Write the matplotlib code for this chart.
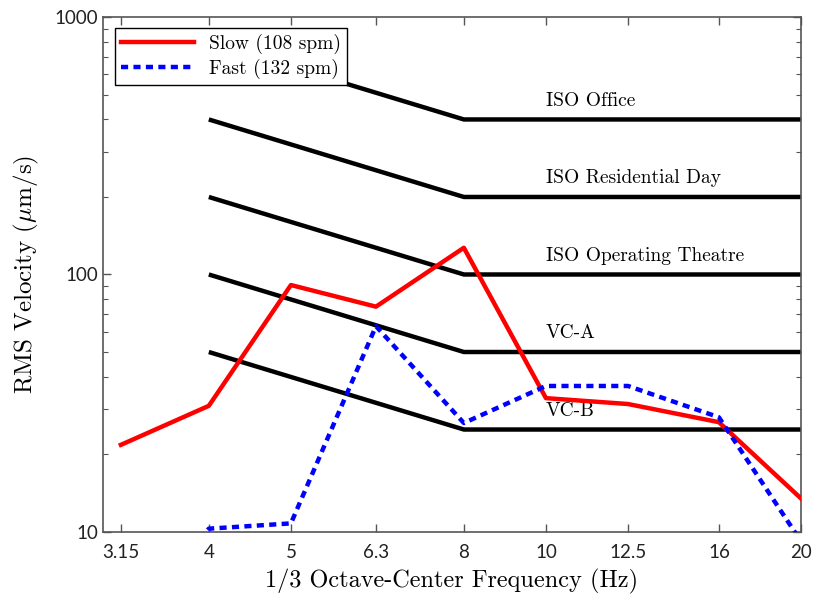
import matplotlib
matplotlib.use("Agg")
import matplotlib.pyplot as plt
import matplotlib.ticker as ticker

plt.rcParams['mathtext.fontset'] = 'cm'
plt.rcParams['axes.formatter.use_mathtext'] = True

# 1/3 octave centre frequencies (Hz)
freqs = [3.15, 4, 5, 6.3, 8, 10, 12.5, 16, 20]
freq_labels = ['3.15', '4', '5', '6.3', '8', '10', '12.5', '16', '20']

slow = [21.8, 30.9, 91, 75, 127, 33.1, 31.4, 26.7, 13.5]
fast = [4.0, 10.3, 10.8, 63, 26.5, 36.9, 36.9, 27.9, 9.2]

# vibration criteria: value at 4 Hz, plateau from 8 Hz to 20 Hz
crit_freqs = [4, 8, 20]
crit_names = ['ISO Office', 'ISO Residential Day', 'ISO Operating Theatre', 'VC-A', 'VC-B']
crit_levels = [400, 200, 100, 50, 25]

serif = 'cmr10'
tick_font = 'Lato'

fig = plt.figure(figsize=(8.14, 5.96), dpi=100)
ax = fig.add_axes([0.1265, 0.1074, 0.8575, 0.8641])

for name, level in zip(crit_names, crit_levels):
    ax.plot(crit_freqs, [2 * level, level, level], color='black', lw=3.2, solid_capstyle='butt', zorder=2)
    ax.text(10, level * 1.18, name, family=serif, fontsize=14, ha='left', va='center', zorder=1)

ax.plot(freqs, slow, color='#ff0000', lw=3.2, label='Slow (108 spm)', zorder=3)
ax.plot(freqs, fast, color='#0000ff', lw=3.2, ls=(0, (1.6, 1.2)), label='Fast (132 spm)', zorder=3)

ax.set_xscale('log')
ax.set_yscale('log')
ax.set_xlim(3.0, 20)
ax.set_ylim(10, 1000)

ax.xaxis.set_major_locator(ticker.FixedLocator(freqs))
ax.xaxis.set_major_formatter(ticker.FixedFormatter(freq_labels))
ax.xaxis.set_minor_locator(ticker.NullLocator())
ax.yaxis.set_major_locator(ticker.FixedLocator([10, 100, 1000]))
ax.yaxis.set_major_formatter(ticker.FixedFormatter(['10', '100', '1000']))
ax.yaxis.set_minor_locator(ticker.LogLocator(base=10, subs=range(2, 10)))
ax.yaxis.set_minor_formatter(ticker.NullFormatter())

ax.tick_params(which='both', direction='in', top=True, right=True, color='#555555')
ax.tick_params(which='major', length=6, width=1)
ax.tick_params(which='minor', length=3.5, width=0.8)
ax.tick_params(axis='x', pad=9)
for lab in ax.get_xticklabels() + ax.get_yticklabels():
    lab.set_family(tick_font)
    lab.set_fontsize(13.5)
    lab.set_color('#222222')
for sp in ax.spines.values():
    sp.set_color('#555555')
    sp.set_linewidth(1.2)

ax.set_xlabel('1/3 Octave-Center Frequency (Hz)', family=serif, fontsize=17.5, labelpad=5)
ax.set_ylabel(r'RMS Velocity ($\mu$m/s)', family=serif, fontsize=18, labelpad=10)

leg = ax.legend(loc='upper left', prop={'family': serif, 'size': 14}, fancybox=False,
                edgecolor='black', framealpha=1, handlelength=3.75, borderpad=0.3,
                labelspacing=0.25, bbox_to_anchor=(0.017, 0.979), borderaxespad=0)
leg.get_frame().set_linewidth(1.0)

fig.savefig('out.png', dpi=100)
